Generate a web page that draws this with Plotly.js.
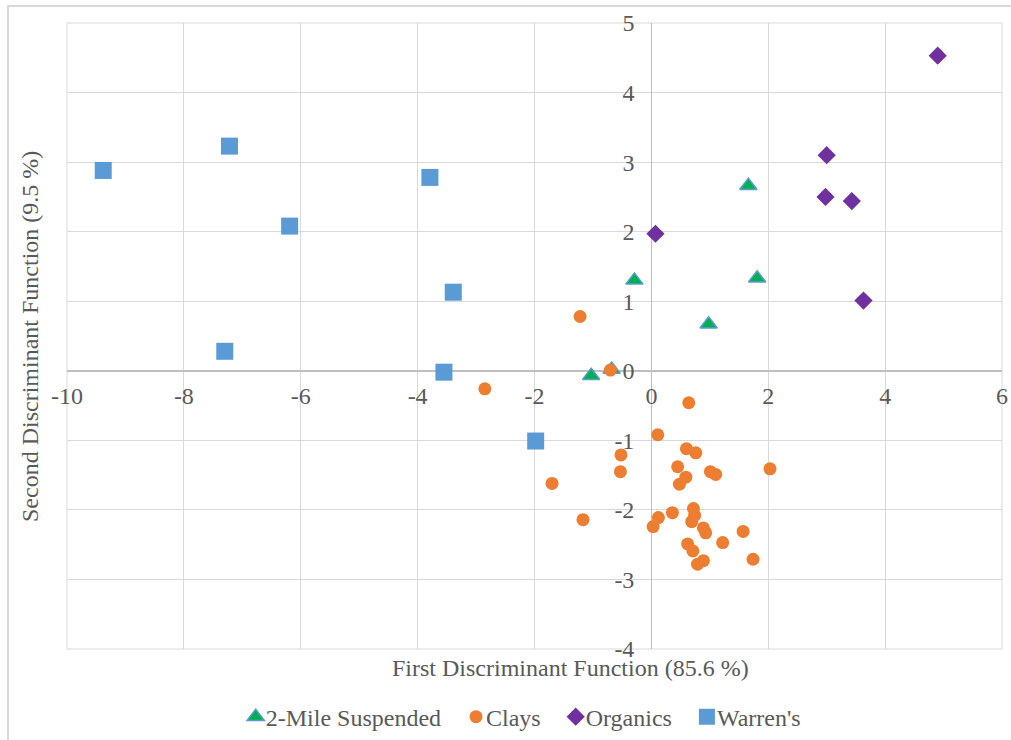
<!DOCTYPE html>
<html>
<head>
<meta charset="utf-8">
<script src="https://cdn.plot.ly/plotly-3.0.1.min.js"></script>
<style>
  html, body { margin: 0; padding: 0; background: #ffffff; }
  #wrap { position: relative; width: 1011px; height: 740px; overflow: hidden; }
  #frame { position: absolute; left: 7px; top: 5px; width: 1020px; height: 750px;
           border: 2px solid #d9d9d9; box-sizing: border-box; pointer-events: none; }
  #chart { position: absolute; left: 0; top: 0; width: 1011px; height: 740px; }
</style>
</head>
<body>
<div id="wrap">
  <div id="chart"></div>
  <div id="frame"></div>
</div>
<script>
// Discriminant scores per sample group (first, second function)
const mileX = [-0.29, 1.81, 0.98, -1.03, -0.68, 1.66];
const mileY = [1.30, 1.33, 0.67, -0.07, 0.02, 2.66];

const claysX = [-1.22, -0.70, -2.85, 0.64, 0.11, 0.60, 0.76, -0.52, -0.53, 0.45, 0.59,
                0.48, 1.01, 1.10, 2.03, -1.70, -1.17, 0.72, 0.74, 0.69, 0.36, 0.12,
                0.03, 0.89, 0.93, 1.57, 1.22, 0.62, 0.71, 0.89, 0.79, 1.74];
const claysY = [0.78, 0.01, -0.26, -0.46, -0.92, -1.12, -1.18, -1.21, -1.45, -1.38, -1.53,
                -1.63, -1.45, -1.49, -1.41, -1.62, -2.14, -1.98, -2.08, -2.17, -2.04, -2.11,
                -2.24, -2.26, -2.33, -2.31, -2.47, -2.49, -2.59, -2.73, -2.78, -2.71];

const organicsX = [4.90, 3.00, 2.98, 3.43, 0.07, 3.63];
const organicsY = [4.53, 3.10, 2.50, 2.44, 1.97, 1.01];

const warrensX = [-9.38, -7.22, -3.79, -6.19, -3.39, -7.30, -3.55, -1.98];
const warrensY = [2.88, 3.23, 2.78, 2.08, 1.13, 0.28, -0.02, -1.01];

const xTicks = [-10, -8, -6, -4, -2, 0, 2, 4, 6];
const yTicks = [-4, -3, -2, -1, 0, 1, 2, 3, 4, 5];

const xRange = [-10, 6];
const yRange = [-4, 5];

const fontFam = 'Liberation Serif, Times New Roman, serif';
const textGrey = '#595959';
const gridGrey = '#d9d9d9';
const fontSize = 24;

function textFont() {
  return { family: fontFam, size: fontSize, color: textGrey };
}

const traces = [
  {
    name: '2-Mile Suspended', x: mileX, y: mileY, type: 'scatter', mode: 'markers',
    marker: { symbol: 'triangle-up', size: 15, color: '#00b050',
              line: { color: '#5b9bd5', width: 1.5 } }
  },
  {
    name: 'Clays', x: claysX, y: claysY, type: 'scatter', mode: 'markers',
    marker: { symbol: 'circle', size: 13, color: '#ed7d31' }
  },
  {
    name: 'Organics', x: organicsX, y: organicsY, type: 'scatter', mode: 'markers',
    marker: { symbol: 'diamond', size: 14, color: '#7030a0' }
  },
  {
    name: "Warren's", x: warrensX, y: warrensY, type: 'scatter', mode: 'markers',
    marker: { symbol: 'square', size: 17, color: '#5b9bd5' }
  }
];

// Axes cross at the origin: place each axis at the other's zero
const xPos = (0 - yRange[0]) / (yRange[1] - yRange[0]);
const yPos = (0 - xRange[0]) / (xRange[1] - xRange[0]);

const layout = {
  width: 1011, height: 740,
  margin: { l: 67, r: 9, t: 23, b: 91 },
  showlegend: true,
  legend: {
    orientation: 'h', xref: 'container', yref: 'container',
    x: 0.52, xanchor: 'center', y: 0.031, yanchor: 'middle',
    font: textFont(), itemwidth: 30, tracegroupgap: 0
  },
  xaxis: {
    range: xRange, tickvals: xTicks, ticktext: xTicks.map(String),
    showgrid: true, gridcolor: gridGrey, gridwidth: 1,
    zeroline: true, zerolinecolor: '#bfbfbf', zerolinewidth: 1.5,
    showline: false, ticks: '',
    anchor: 'free', position: xPos, ticklabelstandoff: 8,
    tickfont: textFont()
  },
  yaxis: {
    range: yRange, tickvals: yTicks, ticktext: yTicks.map(String),
    showgrid: true, gridcolor: gridGrey, gridwidth: 1,
    zeroline: true, zerolinecolor: '#bfbfbf', zerolinewidth: 1.5,
    showline: false, ticks: '',
    anchor: 'free', position: yPos, ticklabelstandoff: 17,
    tickfont: textFont()
  },
  shapes: [
    {
      type: 'rect', xref: 'paper', yref: 'paper', x0: 0, x1: 1, y0: 0, y1: 1,
      line: { color: gridGrey, width: 1 }, layer: 'below'
    }
  ],
  annotations: [
    {
      text: 'First Discriminant Function (85.6 %)', xref: 'paper', yref: 'paper',
      x: 0.538, y: -0.030, xanchor: 'center', yanchor: 'middle', showarrow: false,
      font: textFont()
    },
    {
      text: 'Second Discriminant Function (9.5 %)', xref: 'paper', yref: 'paper',
      x: -0.0396, y: 0.5, xanchor: 'center', yanchor: 'middle', showarrow: false,
      textangle: -90, font: textFont()
    }
  ]
};

Plotly.newPlot('chart', traces, layout, { displayModeBar: false, staticPlot: true })
  .then(function (gd) {
    // Pull legend labels closer to their symbols
    gd.querySelectorAll('.legend .legendtext').forEach(function (t) {
      t.setAttribute('x', 30);
    });
  });
</script>
</body>
</html>
